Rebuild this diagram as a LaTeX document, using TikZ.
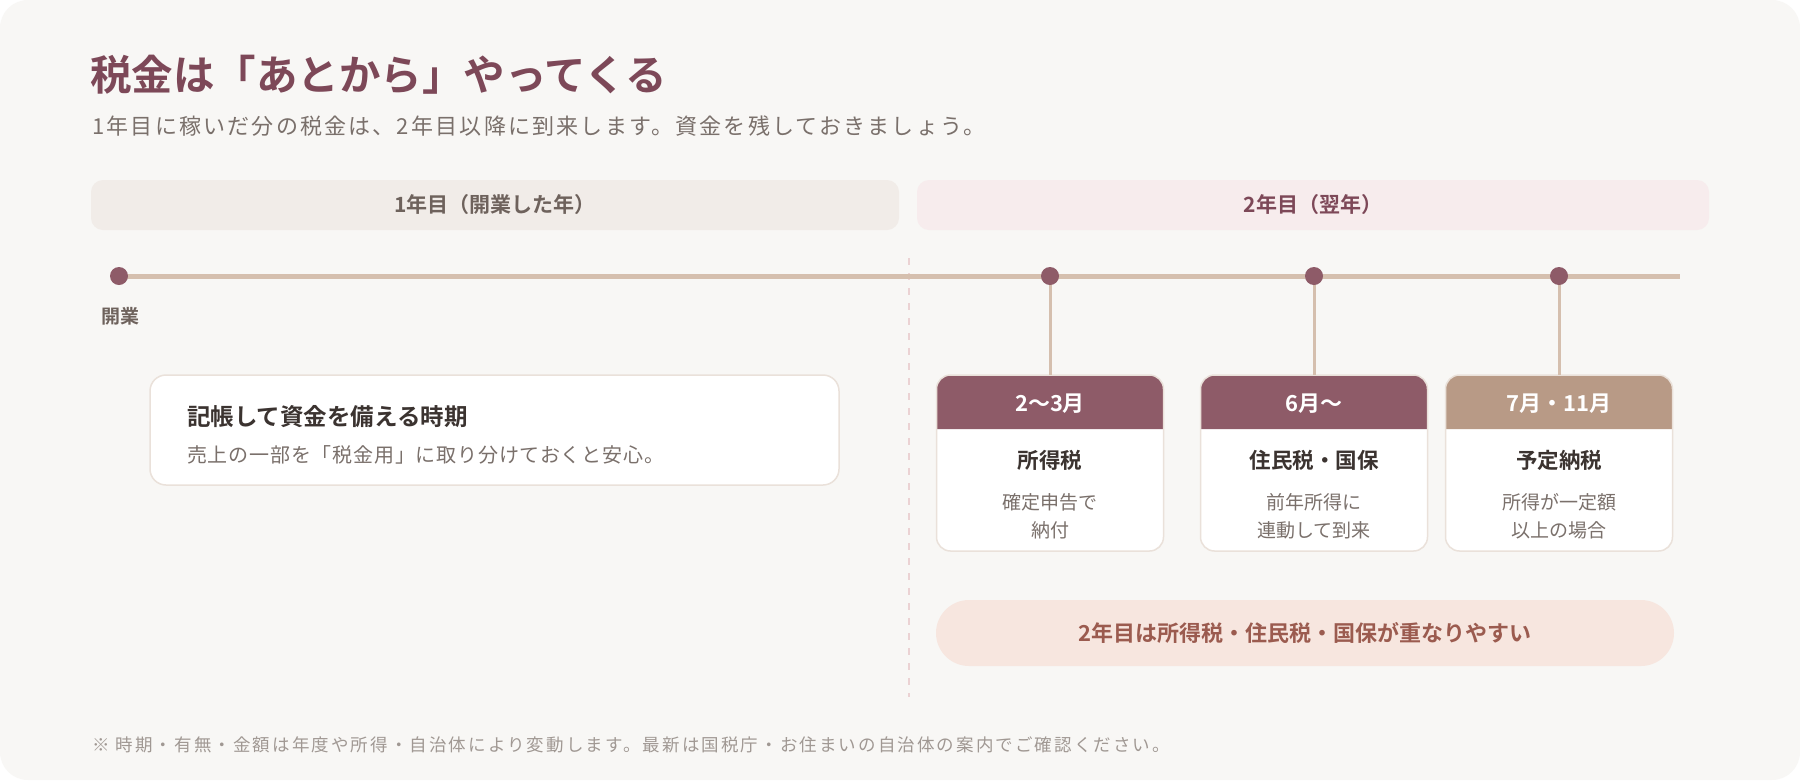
\documentclass[tikz,border=0pt]{standalone}
\usepackage{fontspec}
\setmainfont{Noto Sans CJK JP}[BoldFont={Noto Sans CJK JP Bold}]

\definecolor{pagebg}{HTML}{F8F7F5}
\definecolor{bandone}{HTML}{F1ECE8}
\definecolor{bandtwo}{HTML}{F7ECED}
\definecolor{mauve}{HTML}{8E5B68}
\definecolor{titlec}{HTML}{7D4858}
\definecolor{tan}{HTML}{D5BFAE}
\definecolor{tanhead}{HTML}{B89A86}
\definecolor{greytext}{HTML}{7A706B}
\definecolor{darktext}{HTML}{3B3330}
\definecolor{bandtext}{HTML}{6E625C}
\definecolor{notetext}{HTML}{A09893}
\definecolor{pillbg}{HTML}{F7E6DF}
\definecolor{pilltext}{HTML}{9B5B4F}
\definecolor{divpink}{HTML}{EBD2D3}
\definecolor{cardedge}{HTML}{EAE1DA}

\newcommand{\pxfont}[2]{\fontsize{#1}{#2}\selectfont}
\newcommand{\tracked}[1]{\addfontfeature{LetterSpace=#1}}

\begin{document}
\begin{tikzpicture}[x=1pt, y=-1pt,
    yearband/.style={rounded corners=12pt, minimum height=50pt, inner sep=0pt,
      font=\pxfont{21}{25}\bfseries},
    tline/.style={tan, line width=5pt},
    stem/.style={tan, line width=3pt},
    dot/.style={circle, fill=mauve, inner sep=0pt, minimum size=18pt},
    divider/.style={divpink, line width=2pt, dash pattern=on 7pt off 8pt},
    infocard/.style={draw=cardedge, line width=1.5pt, fill=white, rounded corners=16pt,
      minimum width=689pt, minimum height=110pt, inner sep=0pt},
    taxcard/.style={fill=white, minimum width=227pt, minimum height=176pt,
      inner sep=0pt, outer sep=0pt, rounded corners=14pt},
    edge line/.style={draw=cardedge, line width=1.5pt, rounded corners=14pt},
    pill/.style={fill=pillbg, rounded corners=33pt, minimum width=738pt,
      minimum height=66pt, inner sep=0pt, text=pilltext, font=\pxfont{22}{26}\bfseries}]

    \useasboundingbox (0,0) rectangle (1800,780);
    \fill[white] (0,0) rectangle (1800,780);
    \fill[pagebg, rounded corners=28pt] (0,0) rectangle (1800,780);

    % heading
    \node[anchor=west, inner sep=0pt, text=titlec, font=\pxfont{41.5}{48}\bfseries]
      (title) at (90,75) {税金は「あとから」やってくる};
    \node[anchor=west, inner sep=0pt, text=greytext, font=\pxfont{22}{26}\tracked{10}]
      (subtitle) at (92,126) {1年目に稼いだ分の税金は、2年目以降に到来します。資金を残しておきましょう。};

    % year bands
    \node[yearband, fill=bandone, text=bandtext, minimum width=808pt]
      (yearone) at (495,205) {1年目（開業した年）};
    \node[yearband, fill=bandtwo, text=titlec, minimum width=792pt]
      (yeartwo) at (1313,205) {2年目（翌年）};

    \coordinate (p0) at (119,276);
    \coordinate (p1) at (1050,276);
    \coordinate (p2) at (1314,276);
    \coordinate (p3) at (1559,276);
    \coordinate (tlend) at (1680,276);
    \coordinate (divtop) at (909,258);
    \coordinate (divbot) at (909,697);

    \draw[divider] (divtop) -- (divbot);
    \draw[tline] (p0) -- (tlend);

    \node[text=bandtext, font=\pxfont{19}{23}\bfseries] (kaigyo) at (120,316) {開業};

    % first year card
    \node[infocard] (prep) at (494.5,430) {};
    \node[anchor=west, inner sep=0pt, text=darktext, font=\pxfont{23.5}{27}\bfseries]
      (preptitle) at (187,417) {記帳して資金を備える時期};
    \node[anchor=west, inner sep=0pt, text=greytext, font=\pxfont{20}{24}\tracked{4}]
      (preptext) at (187,455) {売上の一部を「税金用」に取り分けておくと安心。};

    % second year cards
    \foreach \i/\x/\col/\when/\what/\lineA/\lineB in {
        1/1050/mauve/2〜3月/所得税/確定申告で/納付,
        2/1314/mauve/6月〜/住民税・国保/前年所得に/連動して到来,
        3/1559/tanhead/7月・11月/予定納税/所得が一定額/以上の場合} {
      \node[taxcard] (card\i) at (\x,463) {};
      \fill[\col] ({\x-113.5},429) [rounded corners=14pt] -- ({\x-113.5},375)
        -- ({\x+113.5},375) [sharp corners] -- ({\x+113.5},429) -- cycle;
      \draw[edge line] (card\i.south west) rectangle (card\i.north east);
      \draw[stem] (p\i) -- (card\i.north);
      \node[text=white, font=\pxfont{22}{26}\bfseries] (when\i) at (\x,404) {\when};
      \node[text=darktext, font=\pxfont{21.5}{25}\bfseries] (what\i) at (\x,460) {\what};
      \node[align=center, text=greytext, font=\pxfont{19}{28}] (detail\i) at (\x,516)
        {\lineA\\\lineB};
    }

    \foreach \i in {0,...,3}
      \node[dot] (d\i) at (p\i) {};

    \node[pill] (overlap) at (1305,633) {2年目は所得税・住民税・国保が重なりやすい};

    \node[anchor=west, inner sep=0pt, text=notetext, font=\pxfont{17.5}{21}\tracked{12}]
      (note) at (92,745) {※ 時期・有無・金額は年度や所得・自治体により変動します。最新は国税庁・お住まいの自治体の案内でご確認ください。};
\end{tikzpicture}
\end{document}
